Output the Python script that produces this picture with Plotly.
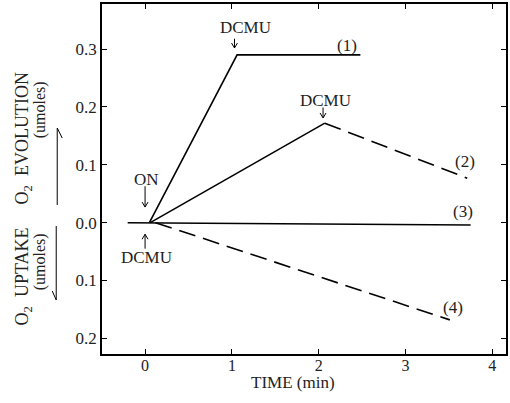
import plotly.graph_objects as go

# ---- data ----
line1_x = [0.05, 1.06, 2.48]
line1_y = [0.0, 0.290, 0.290]
line2_solid_x = [0.06, 2.07]
line2_solid_y = [0.0, 0.172]
line2_dash_x = [2.07, 3.71]
line2_dash_y = [0.172, 0.077]
line3_x = [-0.20, 3.75]
line3_y = [0.0, -0.004]
line4_x = [0.12, 3.51]
line4_y = [0.0, -0.168]

curve_labels = ["(1)", "(2)", "(3)", "(4)"]
curve_label_x = [2.32, 3.69, 3.66, 3.55]
curve_label_y = [0.307, 0.105, 0.019, -0.146]

marker_text = ["DCMU", "DCMU", "ON", "DCMU"]
marker_text_x = [1.16, 2.08, 0.02, 0.02]
marker_text_y = [0.337, 0.212, 0.074, -0.061]
# arrows: tip and tail
arrow_x = [1.03, 2.05, 0.0, 0.0]
arrow_tip_y = [0.302, 0.181, 0.027, -0.020]
arrow_tail_y = [0.318, 0.199, 0.063, -0.045]

x_tickvals = [0, 1, 2, 3, 4]
x_ticktext = ["0", "1", "2", "3", "4"]
y_tickvals = [-0.2, -0.1, 0.0, 0.1, 0.2, 0.3]
y_ticktext = ["0.2", "0.1", "0.0", "0.1", "0.2", "0.3"]

W, H = 510, 403
ML, MR, MT, MB = 102, 2, 4, 49
PW, PH = W - ML - MR, H - MT - MB
FONT = "Liberation Serif"
XR = [-0.496, 4.157]
YR = [-0.227, 0.378]

def px(xp):
    return (xp - ML) / PW

def py(yp):
    return (H - MB - yp) / PH

fig = go.Figure()
solid = dict(color="black", width=1.6)
dashed = dict(color="black", width=1.6, dash="17px,8px")
fig.add_trace(go.Scatter(x=line1_x, y=line1_y, mode="lines", line=solid))
fig.add_trace(go.Scatter(x=line2_solid_x, y=line2_solid_y, mode="lines", line=solid))
fig.add_trace(go.Scatter(x=line2_dash_x, y=line2_dash_y, mode="lines", line=dashed))
fig.add_trace(go.Scatter(x=line3_x, y=line3_y, mode="lines", line=solid))
fig.add_trace(go.Scatter(x=line4_x, y=line4_y, mode="lines", line=dashed))

ann = []
for t, x, y in zip(curve_labels, curve_label_x, curve_label_y):
    ann.append(dict(x=x, y=y, text=t, showarrow=False, font=dict(size=17),
                    xanchor="center", yanchor="middle"))
for t, x, y in zip(marker_text, marker_text_x, marker_text_y):
    ann.append(dict(x=x, y=y, text=t, showarrow=False, font=dict(size=17),
                    xanchor="center", yanchor="middle"))

shapes = []
xpu = PW / (XR[1] - XR[0])
ypu = PH / (YR[1] - YR[0])
for x, yt, yb in zip(arrow_x, arrow_tip_y, arrow_tail_y):
    shapes.append(dict(type="line", x0=x, x1=x, y0=yb, y1=yt, xref="x", yref="y",
                       line=dict(color="black", width=1)))
    s = 1 if yb > yt else -1
    dx, dy = 3 / xpu, 5 / ypu
    shapes.append(dict(type="path", xref="x", yref="y", line=dict(color="black", width=1),
                       path=f"M {x-dx} {yt+s*dy} L {x} {yt} L {x+dx} {yt+s*dy}"))

# axis titles
ann.append(dict(x=px(294), y=py(382), xref="paper", yref="paper", text="TIME (min)",
                showarrow=False, font=dict(size=17), xanchor="center", yanchor="middle"))
for t, xp, yp, sz in [("O<sub>2</sub>  EVOLUTION", 23, 138, 18), ("(umoles)", 40, 110, 16),
                      ("O<sub>2</sub>  UPTAKE", 23, 276, 18), ("(umoles)", 40, 262, 16)]:
    ann.append(dict(x=px(xp), y=py(yp), xref="paper", yref="paper", text=t,
                    showarrow=False, textangle=-90, font=dict(size=sz),
                    xanchor="center", yanchor="middle"))

shapes += [
    dict(type="path", xref="paper", yref="paper", line=dict(color="black", width=1),
         path=f"M {px(57)} {py(205)} L {px(57)} {py(128)} L {px(62)} {py(138)}"),
    dict(type="path", xref="paper", yref="paper", line=dict(color="black", width=1),
         path=f"M {px(56)} {py(226)} L {px(56)} {py(300)} L {px(52)} {py(291)}"),
]

fig.update_layout(
    width=W, height=H, margin=dict(l=ML, r=MR, t=MT, b=MB),
    paper_bgcolor="white", plot_bgcolor="white", showlegend=False,
    font=dict(family=FONT, color="#222", size=17),
    annotations=ann, shapes=shapes,
)
fig.update_xaxes(range=XR, tickvals=x_tickvals, ticktext=x_ticktext,
                 showgrid=False, zeroline=False, showline=True, linecolor="black", linewidth=1.5,
                 mirror="ticks", ticks="inside", ticklen=5, tickcolor="black",
                 tickfont=dict(size=16), ticklabelstandoff=-4)
fig.update_yaxes(range=YR, tickvals=y_tickvals, ticktext=y_ticktext,
                 showgrid=False, zeroline=False, showline=True, linecolor="black", linewidth=1.5,
                 mirror="ticks", ticks="inside", ticklen=5, tickcolor="black",
                 tickfont=dict(size=17))

fig.write_html("out.html", post_script="document.body.style.margin='0';",
               config={"displayModeBar": False})
